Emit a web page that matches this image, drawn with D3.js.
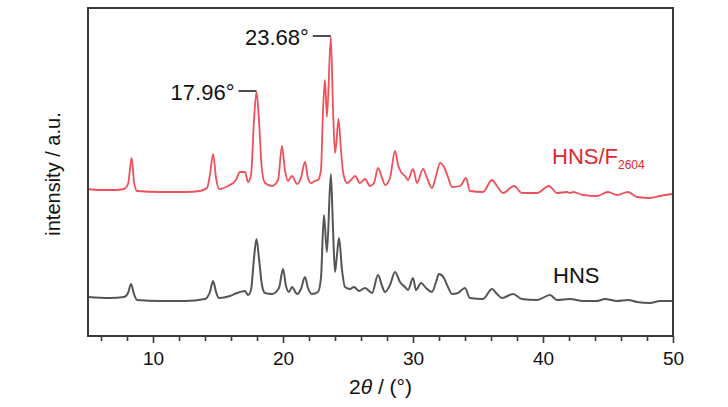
<!DOCTYPE html>
<html>
<head>
<meta charset="utf-8">
<script src="https://cdn.jsdelivr.net/npm/d3@7"></script>
<style>
  body { margin: 0; background: #fff; }
  text { font-family: "Liberation Sans", Arial, sans-serif; }
</style>
</head>
<body>
<div id="chart"></div>
<script>
// 2theta positions and intensities (a.u.)
const hnsF_theta = [5.0, 5.92, 7.08, 7.77, 8.08, 8.36, 8.54, 8.77, 10.54, 12.46, 13.6, 14.15, 14.38, 14.62, 14.85, 15.08, 15.77, 16.38, 16.69, 17.08, 17.31, 17.54, 17.77, 17.96, 18.15, 18.38, 18.62, 19.15, 19.62, 19.92, 20.15, 20.38, 20.69, 21.08, 21.38, 21.69, 21.92, 22.15, 22.46, 22.69, 22.92, 23.08, 23.23, 23.38, 23.68, 23.85, 24.0, 24.12, 24.27, 24.46, 24.62, 24.92, 25.23, 25.54, 25.92, 26.31, 26.69, 27.0, 27.31, 27.62, 27.85, 28.23, 28.62, 28.85, 29.08, 29.38, 29.62, 30.0, 30.31, 30.77, 31.08, 31.46, 31.77, 32.08, 32.46, 32.69, 33.0, 33.62, 34.08, 34.38, 35.38, 36.08, 36.46, 36.92, 37.77, 38.38, 39.54, 40.46, 41.08, 41.85, 42.08, 42.31, 43.08, 44.15, 45.0, 45.69, 46.54, 47.23, 48.23, 49.0, 50.0];
const hnsF_int = [441, 438, 438, 441, 456, 534, 462, 435, 432, 432, 435, 444, 483, 546, 474, 441, 450, 468, 492, 492, 462, 483, 648, 732, 648, 498, 459, 450, 468, 570, 498, 465, 480, 456, 474, 522, 474, 459, 465, 468, 498, 678, 768, 657, 897, 678, 549, 588, 651, 558, 492, 459, 468, 480, 459, 471, 450, 459, 504, 474, 453, 474, 555, 513, 492, 480, 468, 501, 459, 501, 474, 444, 480, 519, 501, 477, 447, 450, 474, 435, 432, 468, 450, 429, 450, 429, 429, 450, 429, 432, 429, 432, 423, 420, 432, 423, 432, 417, 414, 420, 426];

const hns_theta = [5.0, 6.69, 7.77, 8.08, 8.31, 8.54, 8.77, 10.54, 12.46, 14.0, 14.38, 14.62, 14.85, 15.08, 15.92, 16.46, 16.69, 17.08, 17.31, 17.54, 17.77, 17.96, 18.15, 18.38, 18.62, 19.15, 19.69, 20.0, 20.23, 20.46, 20.69, 21.08, 21.38, 21.69, 21.92, 22.23, 22.69, 22.92, 23.15, 23.38, 23.68, 23.85, 24.0, 24.15, 24.31, 24.54, 24.77, 25.15, 25.46, 25.85, 26.31, 26.85, 27.31, 27.62, 27.85, 28.23, 28.62, 29.0, 29.38, 29.62, 30.0, 30.23, 30.62, 31.0, 31.46, 31.77, 32.0, 32.38, 32.69, 33.0, 33.46, 34.0, 34.38, 35.38, 36.08, 36.46, 36.85, 37.69, 38.38, 39.54, 40.54, 41.08, 42.08, 43.08, 44.15, 44.77, 45.69, 46.54, 47.23, 48.23, 49.0, 50.0];
const hns_int = [117, 114, 117, 129, 156, 126, 108, 105, 105, 111, 132, 165, 132, 114, 120, 129, 132, 135, 123, 138, 234, 291, 234, 153, 129, 126, 144, 201, 150, 132, 147, 126, 141, 177, 144, 126, 132, 174, 363, 252, 486, 318, 192, 243, 294, 198, 147, 141, 147, 135, 144, 129, 183, 150, 132, 153, 192, 162, 147, 138, 174, 138, 159, 144, 132, 162, 186, 174, 147, 126, 129, 144, 114, 111, 141, 126, 114, 126, 111, 108, 123, 108, 111, 105, 105, 111, 105, 108, 102, 99, 105, 105];

const peakTheta = [17.96, 23.68];
const peakInt = [732, 897];
const peakLabels = ["17.96\u00b0", "23.68\u00b0"];

const xTicks = d3.range(6, 51, 2);
const xTickLabels = [10, 20, 30, 40, 50];

var margin = { top: 8, right: 55, bottom: 71, left: 88 },
	width = 728 - margin.left - margin.right,
	height = 407 - margin.top - margin.bottom;

var svg = d3
	.select("#chart")
	.append("svg")
	.attr("width", 728)
	.attr("height", 407)
	.append("g")
	.attr("transform", "translate(" + margin.left + "," + margin.top + ")");

var x = d3.scaleLinear().domain([5, 50]).range([0, width]);
var y = d3.scaleLinear().domain([0, 984]).range([height, 0]);

// X axis, ticks pointing down, labels only on the tens
var xAxis = svg
	.append("g")
	.attr("transform", "translate(0," + height + ")")
	.call(
		d3.axisBottom(x)
			.tickValues(xTicks)
			.tickSize(5)
			.tickFormat(function (d) {
				return xTickLabels.indexOf(d) >= 0 ? d : "";
			})
	);
xAxis.select(".domain").remove();
xAxis.selectAll(".tick line")
	.attr("stroke", "#3a3a3a")
	.attr("stroke-width", 1.6)
	.attr("y2", function (d) { return d % 10 === 0 ? 7 : 5; });
xAxis.selectAll(".tick text")
	.attr("y", 16)
	.attr("fill", "#111")
	.style("font-size", "19px");

// curves
var line = d3.line()
	.x(function (d) { return x(d[0]); })
	.y(function (d) { return y(d[1]); })
	.curve(d3.curveMonotoneX);

svg.append("path")
	.datum(d3.zip(hns_theta, hns_int))
	.attr("fill", "none")
	.attr("stroke", "#555555")
	.attr("stroke-width", 2)
	.attr("d", line);

svg.append("path")
	.datum(d3.zip(hnsF_theta, hnsF_int))
	.attr("fill", "none")
	.attr("stroke", "#f0505a")
	.attr("stroke-width", 1.8)
	.attr("d", line);

// frame
svg.append("rect")
	.attr("x", 0)
	.attr("y", 0)
	.attr("width", width)
	.attr("height", height)
	.attr("fill", "none")
	.attr("stroke", "#3a3a3a")
	.attr("stroke-width", 2);

// peak labels
peakTheta.forEach(function (t, i) {
	var px = x(t), py = y(peakInt[i]) - 1;
	svg.append("line")
		.attr("x1", px - 18)
		.attr("x2", px)
		.attr("y1", py)
		.attr("y2", py)
		.attr("stroke", "#222")
		.attr("stroke-width", 1.6);
	svg.append("text")
		.attr("x", px - 22)
		.attr("y", py + 9)
		.attr("text-anchor", "end")
		.attr("fill", "#111")
		.style("font-size", "22px")
		.text(peakLabels[i]);
});

// series labels
var redLabel = svg.append("text")
	.attr("x", 464)
	.attr("y", 156)
	.attr("fill", "#e3262f")
	.style("font-size", "22px");
redLabel.append("tspan").text("HNS/F");
redLabel.append("tspan").attr("dy", 5).style("font-size", "12px").text("2604");

svg.append("text")
	.attr("x", 465)
	.attr("y", 275)
	.attr("fill", "#111")
	.style("font-size", "22px")
	.text("HNS");

// axis titles
var xTitle = svg.append("text")
	.attr("x", width / 2)
	.attr("y", height + 58)
	.attr("text-anchor", "middle")
	.attr("fill", "#111")
	.style("font-size", "21px");
xTitle.append("tspan").text("2");
xTitle.append("tspan").style("font-style", "italic").text("\u03b8");
xTitle.append("tspan").text(" / (\u00b0)");

svg.append("text")
	.attr("transform", "rotate(-90)")
	.attr("x", -166)
	.attr("y", -28)
	.attr("text-anchor", "middle")
	.attr("fill", "#111")
	.style("font-size", "20px")
	.text("intensity / a.u.");
</script>
</body>
</html>
